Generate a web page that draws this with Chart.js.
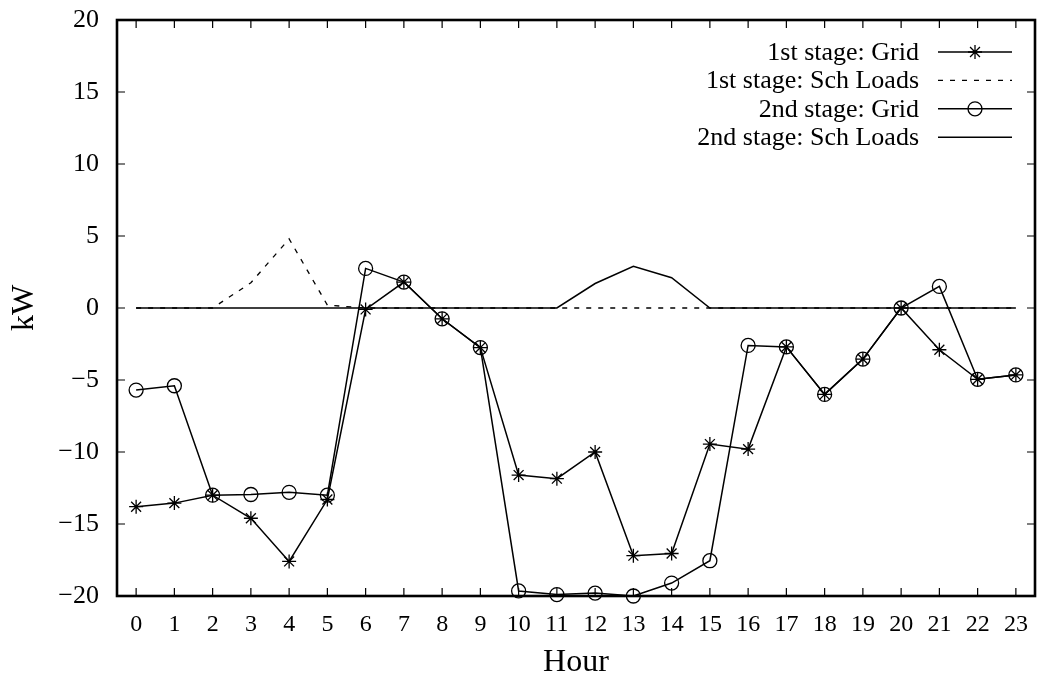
<!DOCTYPE html>
<html>
<head>
<meta charset="utf-8">
<script src="https://cdn.jsdelivr.net/npm/chart.js@4/dist/chart.umd.min.js"></script>
<style>
  html, body { margin: 0; padding: 0; background: #fff; }
  #wrap { width: 1038px; height: 679px; }
</style>
</head>
<body>
<div id="wrap"><canvas id="powerChart" width="1038" height="679"></canvas></div>
<script>
// Data
const hours = [0, 1, 2, 3, 4, 5, 6, 7, 8, 9, 10, 11, 12, 13, 14, 15, 16, 17, 18, 19, 20, 21, 22, 23];
const yTicks = [-20, -15, -10, -5, 0, 5, 10, 15, 20];
const stage1Grid = [-13.8, -13.55, -13.0, -14.6, -17.6, -13.3, -0.1, 1.8, -0.75, -2.75, -11.6, -11.85, -10.0, -17.2, -17.05, -9.45, -9.8, -2.7, -6.0, -3.55, 0.0, -2.9, -4.95, -4.65];
const stage1Sch = [0, 0, 0, 1.75, 4.8, 0.2, 0, 0, 0, 0, 0, 0, 0, 0, 0, 0, 0, 0, 0, 0, 0, 0, 0, 0];
const stage2Grid = [-5.7, -5.4, -13.0, -12.95, -12.8, -13.0, 2.75, 1.8, -0.75, -2.75, -19.65, -19.9, -19.8, -20.0, -19.1, -17.55, -2.6, -2.7, -6.0, -3.55, 0.0, 1.5, -4.95, -4.65];
const stage2Sch = [0, 0, 0, 0, 0, 0, 0, 0, 0, 0, 0, 0, 1.7, 2.9, 2.1, 0, 0, 0, 0, 0, 0, 0, 0, 0];

const seriesNames = ['1st stage: Grid', '1st stage: Sch Loads', '2nd stage: Grid', '2nd stage: Sch Loads'];

const SERIF = "'Liberation Serif', 'DejaVu Serif', serif";
const minus = v => String(v).replace('-', '\u2212');

// Frame and inward tick marks on all four sides
const framePlugin = {
    id: 'frame',
    beforeDatasetsDraw(chart) {
        const { ctx, chartArea: a, scales } = chart;
        const len = 8;
        ctx.save();
        ctx.strokeStyle = '#000';
        ctx.lineWidth = 1.2;
        ctx.beginPath();
        scales.x.ticks.forEach(t => {
            const px = scales.x.getPixelForValue(t.value);
            ctx.moveTo(px, a.bottom); ctx.lineTo(px, a.bottom - len);
            ctx.moveTo(px, a.top); ctx.lineTo(px, a.top + len);
        });
        scales.y.ticks.forEach(t => {
            const py = scales.y.getPixelForValue(t.value);
            ctx.moveTo(a.left, py); ctx.lineTo(a.left + len, py);
            ctx.moveTo(a.right, py); ctx.lineTo(a.right - len, py);
        });
        ctx.stroke();
        ctx.lineWidth = 2.6;
        ctx.strokeRect(a.left, a.top, a.right - a.left, a.bottom - a.top);
        ctx.restore();
    }
};

// gnuplot-style legend: text right aligned, sample to the right
const legendPlugin = {
    id: 'rightLegend',
    afterDraw(chart) {
        const { ctx } = chart;
        const textRight = 919, x0 = 938, x1 = 1012, top = 52, step = 28.4;
        ctx.save();
        ctx.font = '26px ' + SERIF;
        ctx.textAlign = 'right';
        ctx.textBaseline = 'middle';
        chart.data.datasets.forEach((ds, i) => {
            const y = top + i * step;
            ctx.fillStyle = '#000';
            ctx.fillText(ds.label, textRight, y + 1);
            ctx.strokeStyle = '#000';
            ctx.lineWidth = ds.borderWidth;
            ctx.setLineDash(ds.borderDash || []);
            ctx.beginPath();
            ctx.moveTo(x0, y); ctx.lineTo(x1, y);
            ctx.stroke();
            ctx.setLineDash([]);
            if (ds.pointRadius > 0) {
                ctx.fillStyle = 'rgba(0,0,0,0)';
                ctx.lineWidth = ds.pointBorderWidth;
                Chart.helpers.drawPoint(ctx, {
                    pointStyle: ds.pointStyle, rotation: 0,
                    radius: ds.pointRadius, borderWidth: ds.pointBorderWidth
                }, (x0 + x1) / 2, y);
            }
        });
        ctx.restore();
    }
};

function lineSeries(label, data, extra) {
    return Object.assign({
        label,
        data,
        borderColor: '#000',
        backgroundColor: 'rgba(0,0,0,0)',
        borderWidth: 1.5,
        pointRadius: 0,
        pointBorderWidth: 1.3,
        pointBorderColor: '#000',
        pointBackgroundColor: 'rgba(0,0,0,0)',
        tension: 0,
        fill: false,
        clip: false
    }, extra);
}

new Chart(document.getElementById('powerChart'), {
    type: 'line',
    data: {
        labels: hours,
        datasets: [
            lineSeries(seriesNames[0], stage1Grid, { pointStyle: 'star', pointRadius: 7 }),
            lineSeries(seriesNames[1], stage1Sch, { borderDash: [5, 7], borderWidth: 1.3 }),
            lineSeries(seriesNames[2], stage2Grid, { pointStyle: 'circle', pointRadius: 7 }),
            lineSeries(seriesNames[3], stage2Sch, {})
        ]
    },
    options: {
        responsive: false,
        animation: false,
        layout: { autoPadding: false, padding: { top: 20, right: 3, left: 0, bottom: 0 } },
        plugins: { legend: { display: false }, tooltip: { enabled: false } },
        scales: {
            x: {
                type: 'linear',
                min: -0.5,
                max: 23.5,
                afterBuildTicks: s => { s.ticks = hours.map(h => ({ value: h })); },
                afterFit: s => { s.height = 83; s.paddingLeft = 0; s.paddingRight = 0; },
                grid: { display: false, drawTicks: false },
                border: { display: false },
                ticks: {
                    color: '#000',
                    padding: 14,
                    maxRotation: 0,
                    autoSkip: false,
                    font: { family: SERIF, size: 24 },
                    callback: v => String(v)
                },
                title: {
                    display: true,
                    text: 'Hour',
                    color: '#000',
                    padding: { top: 0, bottom: 0 },
                    font: { family: SERIF, size: 32, lineHeight: 1 }
                }
            },
            y: {
                min: -20,
                max: 20,
                afterBuildTicks: s => { s.ticks = yTicks.map(v => ({ value: v })); },
                afterFit: s => { s.width = 117; s.paddingTop = 0; s.paddingBottom = 0; },
                grid: { display: false, drawTicks: false },
                border: { display: false },
                ticks: {
                    color: '#000',
                    padding: 18,
                    font: { family: SERIF, size: 26 },
                    callback: v => minus(v)
                },
                title: {
                    display: true,
                    text: 'kW',
                    color: '#000',
                    padding: { top: 9, bottom: 0 },
                    font: { family: SERIF, size: 32, lineHeight: 1 }
                }
            }
        }
    },
    plugins: [framePlugin, legendPlugin]
});
</script>
</body>
</html>
